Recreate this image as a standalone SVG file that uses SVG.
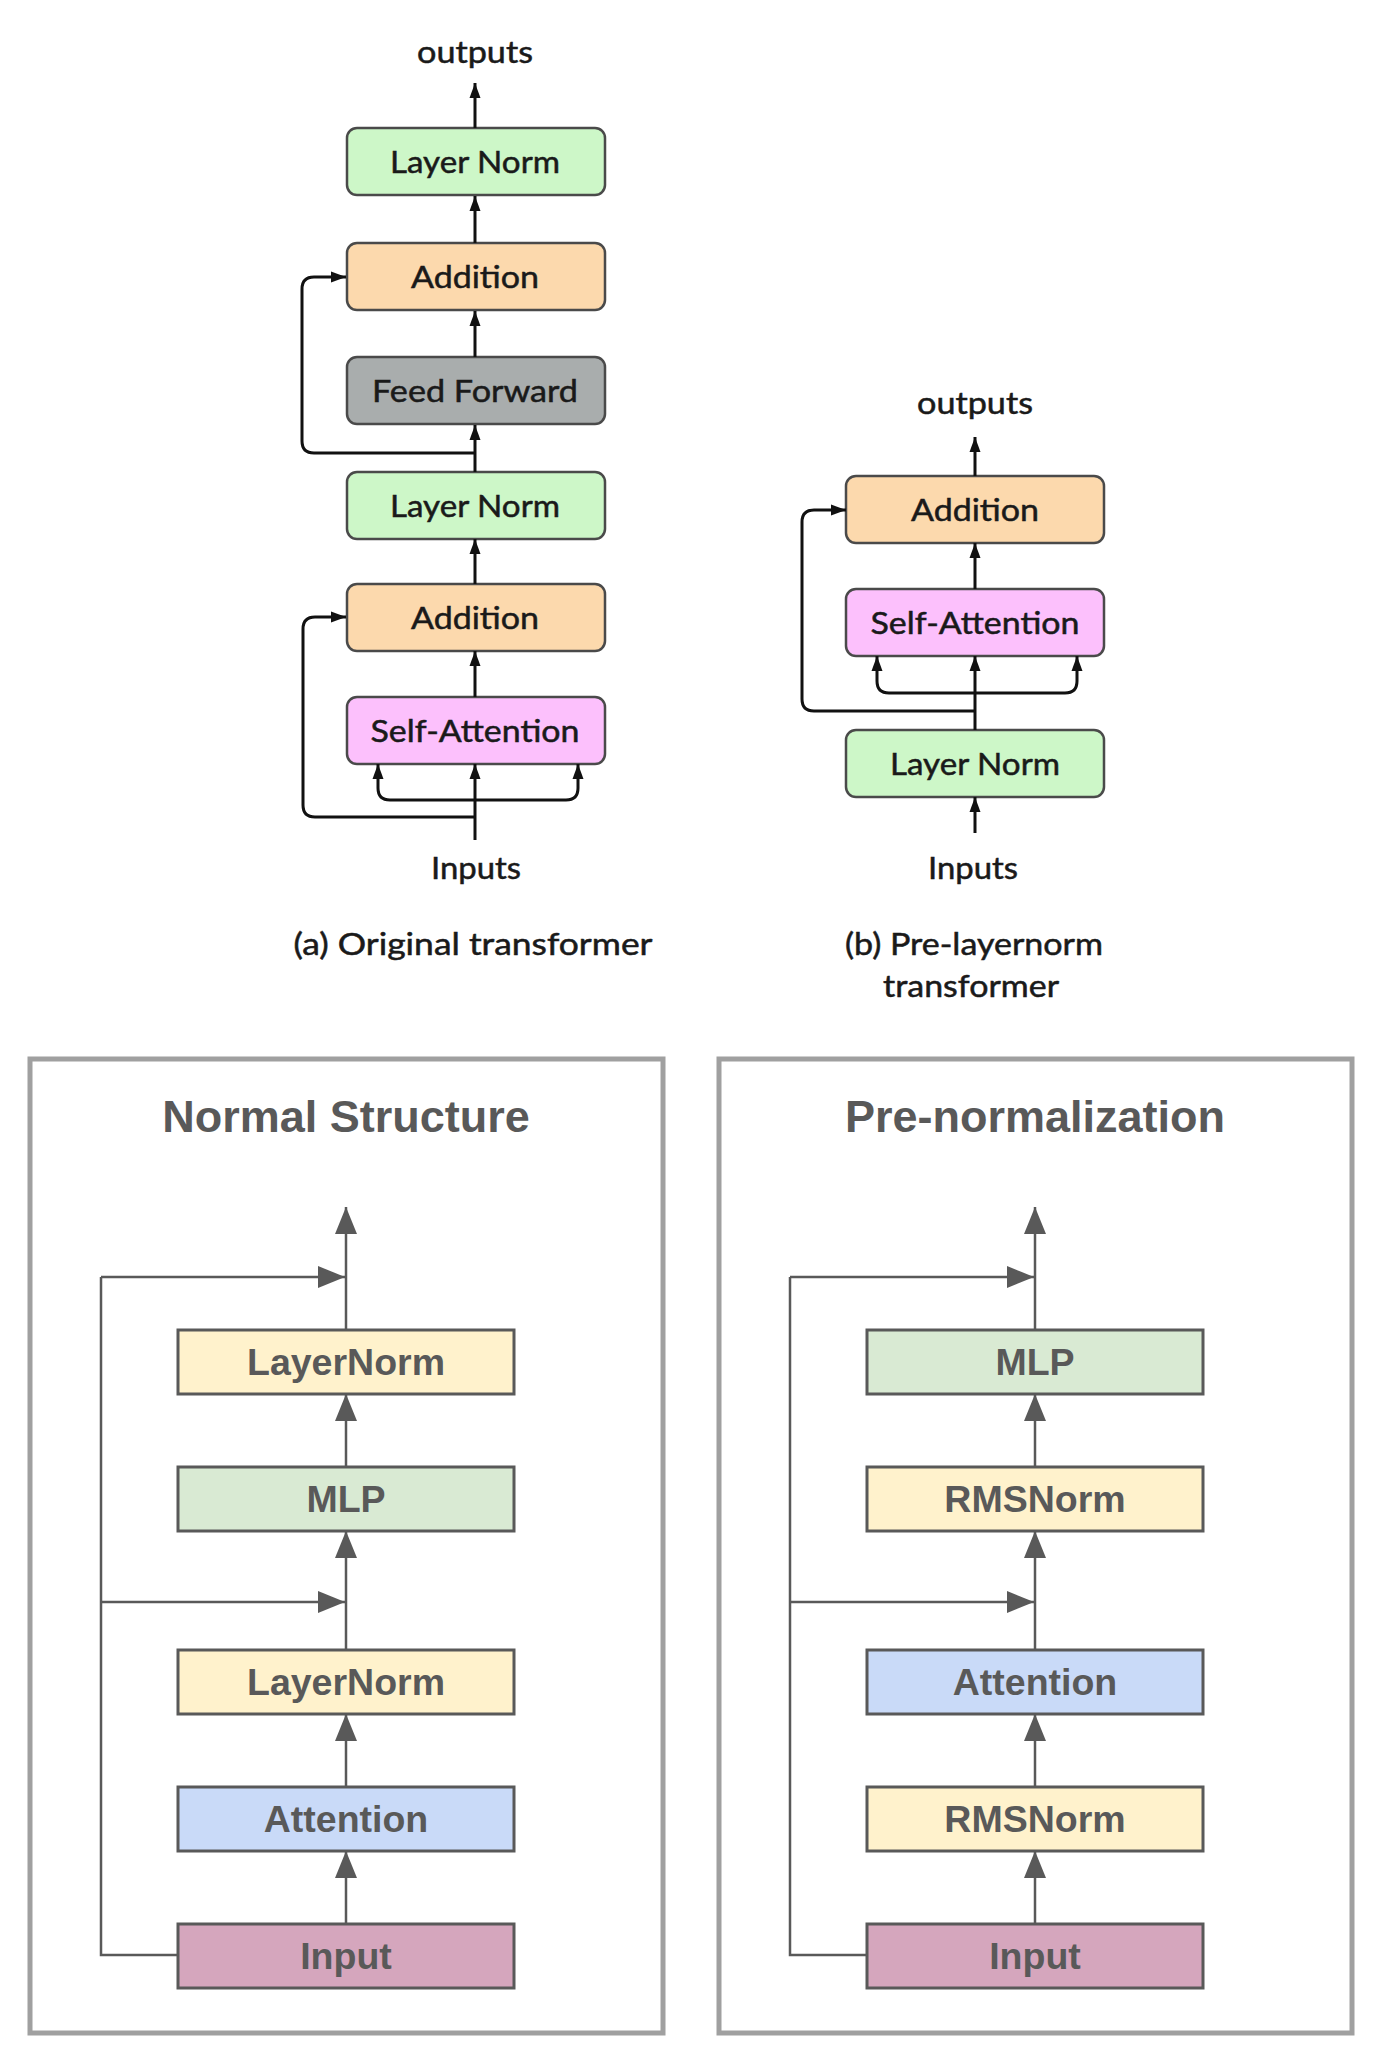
<svg xmlns="http://www.w3.org/2000/svg" width="1376" height="2047" viewBox="0 0 1376 2047">
<style>
.tb{stroke:#4a4a4a;stroke-width:2.5}
.ln{fill:#cdf7c8}.add{fill:#fcd9ad}.ff{fill:#a9adad}.sa{fill:#fcc0fc}
.tt{font-family:Lato,"Open Sans",sans-serif;font-size:30px;fill:#1a1a1a;stroke:#1a1a1a;stroke-width:0.5;text-anchor:middle}
.tc{fill:none;stroke:#111;stroke-width:3}
.panel{fill:#fff;stroke:#a0a0a0;stroke-width:5}
.ttl{font-family:"Liberation Sans",Arial,sans-serif;font-weight:bold;font-size:45px;fill:#595959;text-anchor:middle}
.bx{stroke:#595959;stroke-width:3}
.yl{fill:#fff2cc}.gr{fill:#d9ead3}.bl{fill:#c9daf8}.pk{fill:#d5a6bd}
.bt{font-family:"Liberation Sans",Arial,sans-serif;font-weight:bold;font-size:37.5px;fill:#595959;text-anchor:middle}
.bc{fill:none;stroke:#595959;stroke-width:2.5}
</style>
<defs>
<marker id="ah" markerWidth="15" markerHeight="12" refX="15" refY="6" orient="auto" markerUnits="userSpaceOnUse"><path d="M0,0.5 L15,6 L0,11.5 z" fill="#111"/></marker>
<marker id="bh" markerWidth="27" markerHeight="22" refX="27" refY="11" orient="auto" markerUnits="userSpaceOnUse"><path d="M0,0 L27,11 L0,22 z" fill="#595959"/></marker>
</defs>
<rect width="1376" height="2047" fill="#fff"/>

<!-- (a) Original transformer -->
<g id="a-outputs"><text class="tt" x="475" y="63" textLength="116" lengthAdjust="spacingAndGlyphs">outputs</text></g>
<g id="a-ln1"><rect class="tb ln" x="347" y="128" width="258" height="67" rx="10"/><text class="tt" x="475" y="173" textLength="170" lengthAdjust="spacingAndGlyphs">Layer Norm</text></g>
<g id="a-add1"><rect class="tb add" x="347" y="243" width="258" height="67" rx="10"/><text class="tt" x="475" y="288" textLength="128" lengthAdjust="spacingAndGlyphs">Addition</text></g>
<g id="a-ff"><rect class="tb ff" x="347" y="357" width="258" height="67" rx="10"/><text class="tt" x="475" y="402" textLength="206" lengthAdjust="spacingAndGlyphs">Feed Forward</text></g>
<g id="a-ln2"><rect class="tb ln" x="347" y="472" width="258" height="67" rx="10"/><text class="tt" x="475" y="517" textLength="170" lengthAdjust="spacingAndGlyphs">Layer Norm</text></g>
<g id="a-add2"><rect class="tb add" x="347" y="584" width="258" height="67" rx="10"/><text class="tt" x="475" y="629" textLength="128" lengthAdjust="spacingAndGlyphs">Addition</text></g>
<g id="a-sa"><rect class="tb sa" x="347" y="697" width="258" height="67" rx="10"/><text class="tt" x="475" y="742" textLength="209" lengthAdjust="spacingAndGlyphs">Self-Attention</text></g>
<g id="a-inputs"><text class="tt" x="476" y="879" textLength="90" lengthAdjust="spacingAndGlyphs">Inputs</text></g>
<g id="a-caption"><text class="tt" x="473" y="955" textLength="359" lengthAdjust="spacingAndGlyphs">(a) Original transformer</text></g>

<!-- (b) Pre-layernorm transformer -->
<g id="b-outputs"><text class="tt" x="975" y="414" textLength="116" lengthAdjust="spacingAndGlyphs">outputs</text></g>
<g id="b-add"><rect class="tb add" x="846" y="476" width="258" height="67" rx="10"/><text class="tt" x="975" y="521" textLength="128" lengthAdjust="spacingAndGlyphs">Addition</text></g>
<g id="b-sa"><rect class="tb sa" x="846" y="589" width="258" height="67" rx="10"/><text class="tt" x="975" y="634" textLength="209" lengthAdjust="spacingAndGlyphs">Self-Attention</text></g>
<g id="b-ln"><rect class="tb ln" x="846" y="730" width="258" height="67" rx="10"/><text class="tt" x="975" y="775" textLength="170" lengthAdjust="spacingAndGlyphs">Layer Norm</text></g>
<g id="b-inputs"><text class="tt" x="973" y="879" textLength="90" lengthAdjust="spacingAndGlyphs">Inputs</text></g>
<g id="b-caption"><text class="tt" x="974" y="955" textLength="258" lengthAdjust="spacingAndGlyphs">(b) Pre-layernorm</text><text class="tt" x="971" y="997" textLength="176" lengthAdjust="spacingAndGlyphs">transformer</text></g>

<g id="top-connectors">
<path class="tc" d="M475 128V83" marker-end="url(#ah)"/>
<path class="tc" d="M475 243V196" marker-end="url(#ah)"/>
<path class="tc" d="M475 357V311" marker-end="url(#ah)"/>
<path class="tc" d="M475 472V425" marker-end="url(#ah)"/>
<path class="tc" d="M475 453H314Q302 453 302 441V289Q302 277 314 277H346" marker-end="url(#ah)"/>
<path class="tc" d="M475 584V539" marker-end="url(#ah)"/>
<path class="tc" d="M475 697V651" marker-end="url(#ah)"/>
<path class="tc" d="M475 840V764" marker-end="url(#ah)"/>
<path class="tc" d="M475 800H390Q378 800 378 788V764" marker-end="url(#ah)"/>
<path class="tc" d="M475 800H566Q578 800 578 788V764" marker-end="url(#ah)"/>
<path class="tc" d="M475 817H315Q303 817 303 805V629Q303 617 315 617H346" marker-end="url(#ah)"/>

<path class="tc" d="M975 476V437" marker-end="url(#ah)"/>
<path class="tc" d="M975 589V543" marker-end="url(#ah)"/>
<path class="tc" d="M975 730V656" marker-end="url(#ah)"/>
<path class="tc" d="M975 693H889Q877 693 877 681V656" marker-end="url(#ah)"/>
<path class="tc" d="M975 693H1065Q1077 693 1077 681V656" marker-end="url(#ah)"/>
<path class="tc" d="M975 711H814Q802 711 802 699V522Q802 510 814 510H846" marker-end="url(#ah)"/>
<path class="tc" d="M975 833V797" marker-end="url(#ah)"/>
</g>

<!-- Normal Structure panel -->
<rect class="panel" x="30" y="1059" width="633" height="974"/>
<g id="p1-title"><text class="ttl" x="346" y="1132">Normal Structure</text></g>
<g id="p1-ln1"><rect class="bx yl" x="178" y="1330" width="336" height="64"/><text class="bt" x="346" y="1375">LayerNorm</text></g>
<g id="p1-mlp"><rect class="bx gr" x="178" y="1467" width="336" height="64"/><text class="bt" x="346" y="1512">MLP</text></g>
<g id="p1-ln2"><rect class="bx yl" x="178" y="1650" width="336" height="64"/><text class="bt" x="346" y="1695">LayerNorm</text></g>
<g id="p1-attn"><rect class="bx bl" x="178" y="1787" width="336" height="64"/><text class="bt" x="346" y="1832">Attention</text></g>
<g id="p1-input"><rect class="bx pk" x="178" y="1924" width="336" height="64"/><text class="bt" x="346" y="1969">Input</text></g>

<!-- Pre-normalization panel -->
<rect class="panel" x="719" y="1059" width="633" height="974"/>
<g id="p2-title"><text class="ttl" x="1035" y="1132">Pre-normalization</text></g>
<g id="p2-mlp"><rect class="bx gr" x="867" y="1330" width="336" height="64"/><text class="bt" x="1035" y="1375">MLP</text></g>
<g id="p2-rms1"><rect class="bx yl" x="867" y="1467" width="336" height="64"/><text class="bt" x="1035" y="1512">RMSNorm</text></g>
<g id="p2-attn"><rect class="bx bl" x="867" y="1650" width="336" height="64"/><text class="bt" x="1035" y="1695">Attention</text></g>
<g id="p2-rms2"><rect class="bx yl" x="867" y="1787" width="336" height="64"/><text class="bt" x="1035" y="1832">RMSNorm</text></g>
<g id="p2-input"><rect class="bx pk" x="867" y="1924" width="336" height="64"/><text class="bt" x="1035" y="1969">Input</text></g>

<g id="bottom-connectors">
<path class="bc" d="M346 1330V1207" marker-end="url(#bh)"/>
<path class="bc" d="M101 1277H345" marker-end="url(#bh)"/>
<path class="bc" d="M346 1467V1394" marker-end="url(#bh)"/>
<path class="bc" d="M346 1650V1531" marker-end="url(#bh)"/>
<path class="bc" d="M101 1602H345" marker-end="url(#bh)"/>
<path class="bc" d="M346 1787V1714" marker-end="url(#bh)"/>
<path class="bc" d="M346 1924V1851" marker-end="url(#bh)"/>
<path class="bc" d="M178 1955H101V1277"/>

<path class="bc" d="M1035 1330V1207" marker-end="url(#bh)"/>
<path class="bc" d="M790 1277H1034" marker-end="url(#bh)"/>
<path class="bc" d="M1035 1467V1394" marker-end="url(#bh)"/>
<path class="bc" d="M1035 1650V1531" marker-end="url(#bh)"/>
<path class="bc" d="M790 1602H1034" marker-end="url(#bh)"/>
<path class="bc" d="M1035 1787V1714" marker-end="url(#bh)"/>
<path class="bc" d="M1035 1924V1851" marker-end="url(#bh)"/>
<path class="bc" d="M867 1955H790V1277"/>
</g>
</svg>
